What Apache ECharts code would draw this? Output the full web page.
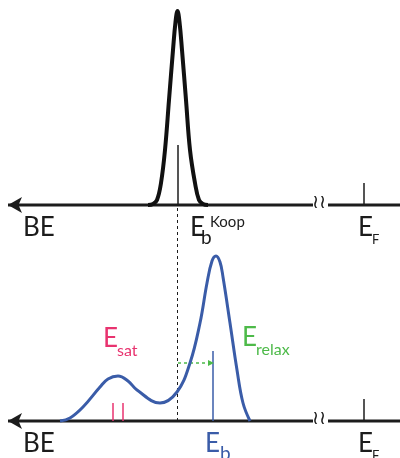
<!DOCTYPE html>
<html style="height: 100%">
<head>
    <meta charset="utf-8">
</head>
<body style="height: 100%;width: 100%;margin: 0;">
    <div id="container" style="width: 400px;height: 458px;"></div>
    <script type="text/javascript" src="https://cdn.jsdelivr.net/npm/echarts@6/dist/echarts.min.js"></script>
    <script type="text/javascript">
        // x in diagram units (0..400), y = intensity
        var koopPeak = [[148, 0], [153, 0.5], [157, 2.5], [161, 11], [165, 27.5], [169, 52.5], [173, 77.5], [175.5, 91.5],
            [177.5, 97], [179.5, 91.5], [182, 77.5], [186, 52.5], [190, 27.5], [195, 11], [199, 2.5], [203, 0.5], [208, 0]];
        var spectrum = [[60, 0], [70, 1.5], [83, 7], [100, 17], [108, 21], [118, 22.5], [128, 20], [137, 15.5], [160, 9],
            [177, 14.5], [190, 29], [200, 49], [207, 69], [212, 80], [216, 82.5], [220, 79.5], [223, 72], [230, 49],
            [237, 25.5], [243, 9], [250, 0]];
        var axisLeft = [[8, 0], [313, 0]];
        var axisRight = [[328, 0], [400, 0]];
        var fermiTick = [[364, 0], [364, 11]];
        var koopTick = [[178, 0], [178, 30]];
        var koopGuide = [[177.5, 0], [177.5, 108]];
        var ebTick = [[213, 0], [213, 35]];
        var satTicks = [[[113, 0], [113, 9]], [[123, 0], [123, 9]]];
        var relaxArrow = [[178, 29], [211, 29]];

        var dark = '#1c1c1c';
        var blue = '#3a5ca8';
        var pink = '#e8336f';
        var green = '#4dba49';

        var dom = document.getElementById("container");
        var myChart = echarts.init(dom);

        function seg(data, xi, color, width, extra) {
            var s = {
                type: 'line', xAxisIndex: xi, yAxisIndex: xi, data: data, symbol: 'none',
                silent: true, animation: false, clip: false,
                lineStyle: { color: color, width: width }
            };
            for (var k in extra) s[k] = extra[k];
            return s;
        }

        function axisWithArrow(xi) {
            var d = axisLeft.map(function (p, i) {
                if (i === 0) {
                    return { value: p, symbol: 'arrow', symbolSize: [12, 14], symbolRotate: 90 };
                }
                return { value: p, symbol: 'none' };
            });
            return seg(d, xi, dark, 3, { showSymbol: true, itemStyle: { color: dark } });
        }

        function txt(x, y, s, size, color) {
            return {
                type: 'text', left: x, top: y, silent: true,
                style: { text: s, fontSize: size, fill: color, fontFamily: 'Lato' }
            };
        }

        var series = [
            // top panel
            axisWithArrow(0),
            seg(axisRight, 0, dark, 3),
            seg(fermiTick, 0, dark, 1.5),
            seg(koopTick, 0, dark, 1.5),
            seg(koopPeak, 0, '#111', 4, { smooth: 0.4 }),
            // bottom panel
            axisWithArrow(1),
            seg(axisRight, 1, dark, 3),
            seg(fermiTick, 1, dark, 1.5),
            seg(koopGuide, 1, dark, 1, { lineStyle: { color: dark, width: 1, type: [3, 3] } }),
            seg(satTicks[0], 1, pink, 1.5),
            seg(satTicks[1], 1, pink, 1.5),
            seg(ebTick, 1, blue, 1.5),
            seg(relaxArrow, 1, green, 1.5, {
                lineStyle: { color: green, width: 1.5, type: [3, 3] },
                showSymbol: true,
                data: relaxArrow.map(function (p, i) {
                    return i === 1 ? { value: p, symbol: 'triangle', symbolSize: [6, 6], symbolRotate: -90 } : { value: p, symbol: 'none' };
                }),
                itemStyle: { color: green }
            }),
            seg(spectrum, 1, blue, 3, { smooth: 0.4 })
        ];

        var labels = [
            txt(23, 215, 'BE', 26, dark),
            txt(190, 215, 'E', 26, dark),
            txt(201, 228, 'b', 19, dark),
            txt(210, 215, 'Koop', 15, dark),
            txt(358, 215, 'E', 26, dark),
            txt(372, 233, 'F', 13, dark),
            txt(23, 431, 'BE', 26, dark),
            txt(205, 431, 'E', 26, blue),
            txt(220, 444, 'b', 19, blue),
            txt(358, 431, 'E', 26, dark),
            txt(372, 449, 'F', 13, dark),
            txt(103, 326, 'E', 26, pink),
            txt(117, 343, 'sat', 16, pink),
            txt(242, 325, 'E', 26, green),
            txt(256, 342, 'relax', 16, green),
            txt(312, 192, '\u2240\u2240', 19, dark),
            txt(312, 408, '\u2240\u2240', 19, dark)
        ];

        var hiddenX = { type: 'value', min: 0, max: 400, show: false };
        var option = {
            animation: false,
            grid: [
                { left: 0, right: 0, top: 5, height: 200 },
                { left: 0, right: 0, top: 205, height: 216 }
            ],
            xAxis: [
                Object.assign({ gridIndex: 0 }, hiddenX),
                Object.assign({ gridIndex: 1 }, hiddenX)
            ],
            yAxis: [
                { type: 'value', gridIndex: 0, min: 0, max: 100, show: false },
                { type: 'value', gridIndex: 1, min: 0, max: 108, show: false }
            ],
            graphic: labels,
            series: series
        };

        myChart.setOption(option);
        window.onresize = myChart.resize;
    </script>
</body>
</html>
